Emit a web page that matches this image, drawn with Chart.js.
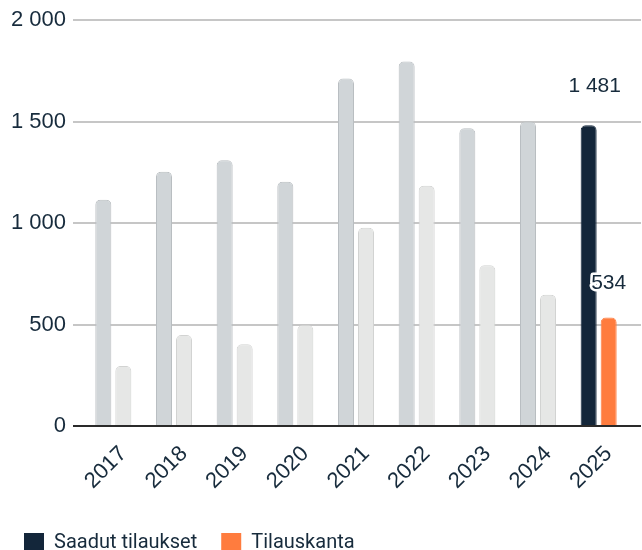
<!DOCTYPE html>
<html>
<head>
<meta charset="utf-8">
<script src="https://cdn.jsdelivr.net/npm/chart.js@4/dist/chart.umd.min.js"></script>
<style>
html,body{margin:0;padding:0;background:#fff;overflow:hidden;}
#wrap{position:relative;width:642px;height:563px;}
</style>
</head>
<body>
<div id="wrap"><canvas id="c" width="642" height="563"></canvas></div>
<script>
const years = ['2017','2018','2019','2020','2021','2022','2023','2024','2025'];
const saadutTilaukset = [1115, 1253, 1309, 1203, 1712, 1796, 1467, 1500, 1481];
const tilauskanta = [296, 448, 403, 497, 976, 1184, 792, 647, 534];
const seriesNames = ['Saadut tilaukset', 'Tilauskanta'];
const yTicks = [0, 500, 1000, 1500, 2000];

const TEXT = '#172b3c';
const GREY = '#d0d5d8', GREY_B = '#b9bec1';
const LIGHT = '#e6e7e6', LIGHT_B = '#d2d3d2';
const NAVY = '#13263a', ORANGE = '#ff7c3e';
const last = years.length - 1;

function fmt(v){ return String(Math.round(v)).replace(/\B(?=(\d{3})+(?!\d))/g, '\u00a0'); }

const gridPlugin = {
  id: 'gridExt',
  beforeDatasetsDraw(chart){
    const {ctx, chartArea, scales} = chart;
    ctx.save();
    ctx.strokeStyle = '#c6c6c6';
    ctx.lineWidth = 2;
    yTicks.forEach(v => {
      if (v === 0) return;
      const y = Math.round(scales.y.getPixelForValue(v));
      ctx.beginPath();
      ctx.moveTo(chartArea.left - 10, y);
      ctx.lineTo(chartArea.right + 12, y);
      ctx.stroke();
    });
    ctx.restore();
  },
  afterDatasetsDraw(chart){
    const {ctx, chartArea, scales} = chart;
    ctx.save();
    ctx.strokeStyle = '#2a2a2a';
    ctx.lineWidth = 2;
    const y = Math.round(scales.y.getPixelForValue(0));
    ctx.beginPath();
    ctx.moveTo(chartArea.left - 10, y);
    ctx.lineTo(chartArea.right + 12, y);
    ctx.stroke();
    ctx.font = '21px "Liberation Sans", Arial, sans-serif';
    ctx.textAlign = 'center';
    ctx.textBaseline = 'alphabetic';
    ctx.lineJoin = 'round';
    chart.data.datasets.forEach((ds, i) => {
      const el = chart.getDatasetMeta(i).data[last];
      const txt = fmt(ds.data[last]);
      const x = el.x + (i === 0 ? 6 : 0), ty = el.y - (i === 0 ? 33 : 29);
      ctx.strokeStyle = '#ffffff';
      ctx.lineWidth = 5;
      ctx.strokeText(txt, x, ty);
      ctx.fillStyle = TEXT;
      ctx.fillText(txt, x, ty);
    });
    ctx.restore();
  }
};

new Chart(document.getElementById('c'), {
  type: 'bar',
  data: {
    labels: years,
    datasets: [
      {
        label: seriesNames[0],
        data: saadutTilaukset,
        backgroundColor: years.map((y,i) => i === last ? NAVY : GREY),
        borderColor: years.map((y,i) => i === last ? NAVY : GREY_B),
        borderWidth: 1,
        borderRadius: 5,
        borderSkipped: 'start',
        categoryPercentage: 0.66,
        barPercentage: 0.8
      },
      {
        label: seriesNames[1],
        data: tilauskanta,
        backgroundColor: years.map((y,i) => i === last ? ORANGE : LIGHT),
        borderColor: years.map((y,i) => i === last ? ORANGE : LIGHT_B),
        borderWidth: 1,
        borderRadius: 5,
        borderSkipped: 'start',
        categoryPercentage: 0.66,
        barPercentage: 0.8
      }
    ]
  },
  options: {
    responsive: false,
    animation: false,
    layout: { padding: { top: 20, right: 13, left: 0, bottom: 0 } },
    plugins: {
      tooltip: { enabled: false },
      legend: {
        position: 'bottom',
        align: 'start',
        labels: {
          color: TEXT,
          font: { family: 'Roboto', size: 20 },
          boxWidth: 20,
          boxHeight: 20,
          padding: 24,
          generateLabels(chart){
            return chart.data.datasets.map((ds, i) => ({
              text: ds.label,
              fillStyle: ds.backgroundColor[last],
              strokeStyle: ds.backgroundColor[last],
              lineWidth: 0,
              fontColor: TEXT,
              datasetIndex: i,
              hidden: false
            }));
          }
        }
      }
    },
    scales: {
      x: {
        grid: { display: false, drawTicks: false },
        border: { display: false },
        ticks: {
          color: TEXT,
          font: { family: '"Liberation Sans", Arial, sans-serif', size: 22 },
          maxRotation: 45, minRotation: 45,
          padding: 15,
          labelOffset: 10
        },
        afterFit(s){ s.height = 83; }
      },
      y: {
        min: 0, max: 2000,
        grid: { display: false, drawTicks: false },
        border: { display: false },
        ticks: {
          stepSize: 500,
          color: TEXT,
          font: { family: '"Liberation Sans", Arial, sans-serif', size: 22 },
          padding: 17,
          callback: v => fmt(v)
        },
        afterFit(s){ s.width = 83; s.paddingTop = 0; s.paddingBottom = 0; }
      }
    }
  },
  plugins: [gridPlugin]
});
</script>
</body>
</html>
